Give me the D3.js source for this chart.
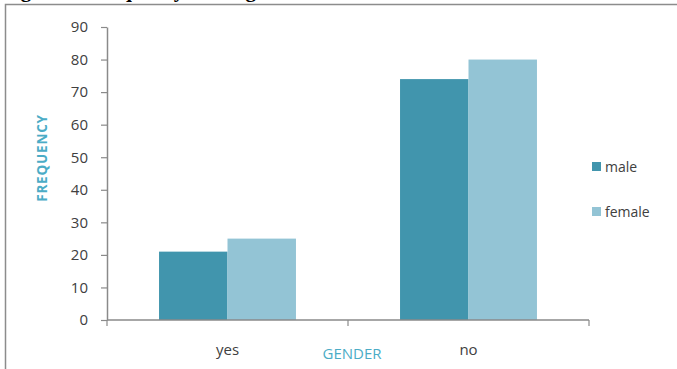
<!DOCTYPE html>
<html>
<head>
<meta charset="utf-8">
<script src="https://cdn.jsdelivr.net/npm/d3@7/dist/d3.min.js"></script>
<style>
  html, body { margin: 0; padding: 0; background: #fff; }
  svg { display: block; }
</style>
</head>
<body>
<svg id="chart" width="677" height="369"></svg>
<script>
// Gender frequency, grouped by answer
const categories = ["yes", "no"];
const seriesNames = ["male", "female"];
const maleValues = [21, 74];
const femaleValues = [25, 80];
const yTicks = [0, 10, 20, 30, 40, 50, 60, 70, 80, 90];
const colors = ["#4195ad", "#93c4d5"];

const svg = d3.select("#chart");
const W = 677, H = 369;
const plot = { left: 107, right: 589, top: 27, bottom: 320 };

// Caption line sitting above the frame (only its lower edge shows)
svg.append("text")
  .attr("x", 2).attr("y", -3.5)
  .attr("font-family", "Liberation Serif, Times New Roman, serif")
  .attr("font-weight", "bold")
  .attr("font-size", 21)
  .attr("fill", "#000")
  .text("Figure 2: Frequency of the gender");

// Chart frame
svg.append("path")
  .attr("d", `M5.5,${H} V4.5 H${W}`)
  .attr("fill", "none")
  .attr("stroke", "#8c8c8c")
  .attr("stroke-width", 1.5);

const x0 = d3.scaleBand().domain(categories).range([plot.left, plot.right]).paddingInner(0).paddingOuter(0);
const x1 = d3.scaleBand().domain(seriesNames).range([0, x0.bandwidth()]).paddingInner(0).paddingOuter(0.76);
const y = d3.scaleLinear().domain([0, 90]).range([plot.bottom, plot.top]);

const rows = categories.map((c, i) => ({ cat: c, vals: [maleValues[i], femaleValues[i]] }));

// Bars
const groups = svg.append("g").selectAll("g").data(rows).join("g")
  .attr("transform", d => `translate(${x0(d.cat)},0)`);
groups.selectAll("rect")
  .data(d => d.vals.map((v, j) => ({ name: seriesNames[j], v, j })))
  .join("rect")
  .attr("x", d => x1(d.name))
  .attr("width", x1.bandwidth())
  .attr("y", d => y(d.v))
  .attr("height", d => y(0) - y(d.v))
  .attr("fill", d => colors[d.j]);

const axisColor = "#8a8a8a";
const labelColor = "#404040";
const font = "Open Sans, DejaVu Sans, sans-serif";

// Y axis
const yAxis = svg.append("g")
  .attr("transform", `translate(${plot.left},0)`)
  .call(d3.axisLeft(y).tickValues(yTicks).tickSize(6).tickPadding(13).tickSizeOuter(0));
yAxis.select(".domain").attr("stroke", axisColor).attr("stroke-width", 1.5);
yAxis.selectAll(".tick line").attr("stroke", axisColor).attr("stroke-width", 1.2);
yAxis.selectAll(".tick text")
  .attr("font-family", font).attr("font-size", 15).attr("fill", labelColor);

// X axis: ticks on the category boundaries
const boundaries = [plot.left, ...categories.slice(1).map(c => x0(c)), plot.right];
svg.append("line")
  .attr("x1", plot.left).attr("x2", plot.right)
  .attr("y1", y(0)).attr("y2", y(0))
  .attr("stroke", axisColor).attr("stroke-width", 1.5);
svg.append("g").selectAll("line").data(boundaries).join("line")
  .attr("x1", d => d).attr("x2", d => d)
  .attr("y1", y(0)).attr("y2", y(0) + 6)
  .attr("stroke", axisColor).attr("stroke-width", 1.2);
svg.append("g").selectAll("text").data(categories).join("text")
  .attr("x", d => x0(d) + x0.bandwidth() / 2)
  .attr("y", 355)
  .attr("text-anchor", "middle")
  .attr("font-family", font).attr("font-size", 15).attr("fill", labelColor)
  .text(d => d);

// Axis titles
const titleColor = "#4bacc6";
svg.append("text")
  .attr("x", 352).attr("y", 359)
  .attr("text-anchor", "middle")
  .attr("font-family", font).attr("font-size", 15).attr("fill", titleColor)
  .text("GENDER");
svg.append("text")
  .attr("transform", "translate(47,158) rotate(-90)")
  .attr("text-anchor", "middle")
  .attr("font-family", font).attr("font-weight", "bold").attr("font-size", 13.5)
  .attr("letter-spacing", 0.8).attr("fill", titleColor)
  .text("FREQUENCY");

// Legend
const legend = svg.append("g").selectAll("g").data(seriesNames).join("g")
  .attr("transform", (d, i) => `translate(592,${162 + i * 45})`);
legend.append("rect").attr("width", 9).attr("height", 9).attr("fill", (d, i) => colors[i]);
legend.append("text")
  .attr("x", 13).attr("y", 9.5)
  .attr("font-family", font).attr("font-size", 14).attr("fill", labelColor)
  .text(d => d);
</script>
</body>
</html>
